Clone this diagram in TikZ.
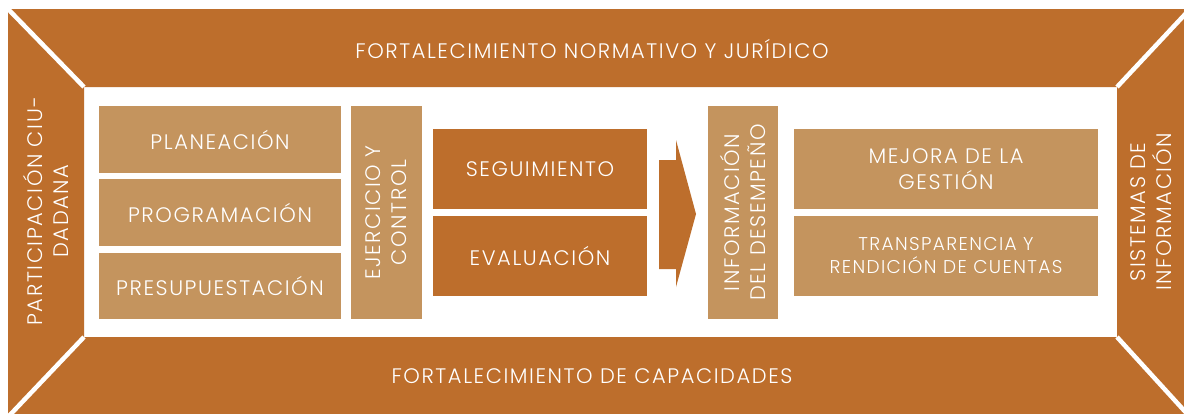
\documentclass[tikz,border=0pt]{standalone}
\usepackage{fontspec}
\setmainfont{Poppins}[UprightFont={* Light},LetterSpace=7.5]
\definecolor{darkor}{RGB}{189,110,44}
\definecolor{lighttan}{RGB}{196,148,94}
\begin{document}
\begin{tikzpicture}[x=1pt,y=-1pt,
  txt/.style={text=white,font=\fontsize{21}{26}\selectfont,align=center,inner sep=0pt},
  smalltxt/.style={text=white,font=\fontsize{18.5}{23}\selectfont,align=center,inner sep=0pt},
  lightbox/.style={fill=lighttan,draw=none,inner sep=0pt},
  darkbox/.style={fill=darkor,draw=none,inner sep=0pt},
  gap/.style={white,line width=4.5pt}]
\useasboundingbox (0,0) rectangle (1184,413);
\fill[white] (0,0) rectangle (1184,413);
% frame
\coordinate (o1) at (8,9); \coordinate (o2) at (1190,9);
\coordinate (o3) at (1190,417); \coordinate (o4) at (8,417);
\coordinate (i1) at (84,87); \coordinate (i2) at (1117,87);
\coordinate (i3) at (1117,337); \coordinate (i4) at (84,337);
\fill[darkor] (o1) -- (o2) -- (i2) -- (i1) -- cycle;
\fill[darkor] (o4) -- (o3) -- (i3) -- (i4) -- cycle;
\fill[darkor] (o1) -- (i1) -- (i4) -- (o4) -- cycle;
\fill[darkor] (o2) -- (i2) -- (i3) -- (o3) -- cycle;
\draw[gap] (o1) -- (i1);
\draw[gap] (o2) -- (i2);
\draw[gap] (o3) -- (i3);
\draw[gap] (o4) -- (i4);
% band labels
\node[txt] (top) at (592,48.5) {FORTALECIMIENTO NORMATIVO Y JURÍDICO};
\node[txt] (bot) at (592,376.5) {FORTALECIMIENTO DE CAPACIDADES};
\node[txt,rotate=90] (left) at (46,211) {PARTICIPACIÓN CIU-\\DADANA};
\node[txt,rotate=90] (right) at (1151.5,212) {SISTEMAS DE\\INFORMACIÓN};
% left column
\node[lightbox,txt,minimum width=242pt,minimum height=67pt] (plan) at (220,139.5) {PLANEACIÓN};
\node[lightbox,txt,minimum width=242pt,minimum height=67pt] (prog) at (220,212.5) {PROGRAMACIÓN};
\node[lightbox,txt,minimum width=242pt,minimum height=66pt] (pres) at (220,286) {PRESUPUESTACIÓN};
\node[lightbox,txt,rotate=90,minimum width=213pt,minimum height=71pt] (ejer) at (386.5,212.5) {EJERCICIO Y\\CONTROL};
% middle
\node[darkbox,txt,minimum width=214pt,minimum height=80pt] (seg) at (540,169) {SEGUIMIENTO};
\node[darkbox,txt,minimum width=214pt,minimum height=80pt] (eval) at (540,256) {EVALUACIÓN};
\fill[darkor] (659,160) -- (676,160) -- (676,140) -- (696,214) -- (676,287) -- (676,269) -- (659,269) -- cycle;
% right
\node[lightbox,txt,rotate=90,minimum width=213pt,minimum height=70pt] (info) at (743,212.5) {INFORMACIÓN\\DEL DESEMPEÑO};
\node[lightbox,txt,minimum width=304pt,minimum height=80pt] (mej) at (946,169) {MEJORA DE LA\\GESTIÓN};
\node[lightbox,smalltxt,minimum width=304pt,minimum height=80pt] (trans) at (946,256) {TRANSPARENCIA Y\\RENDICIÓN DE CUENTAS};
\end{tikzpicture}
\end{document}
